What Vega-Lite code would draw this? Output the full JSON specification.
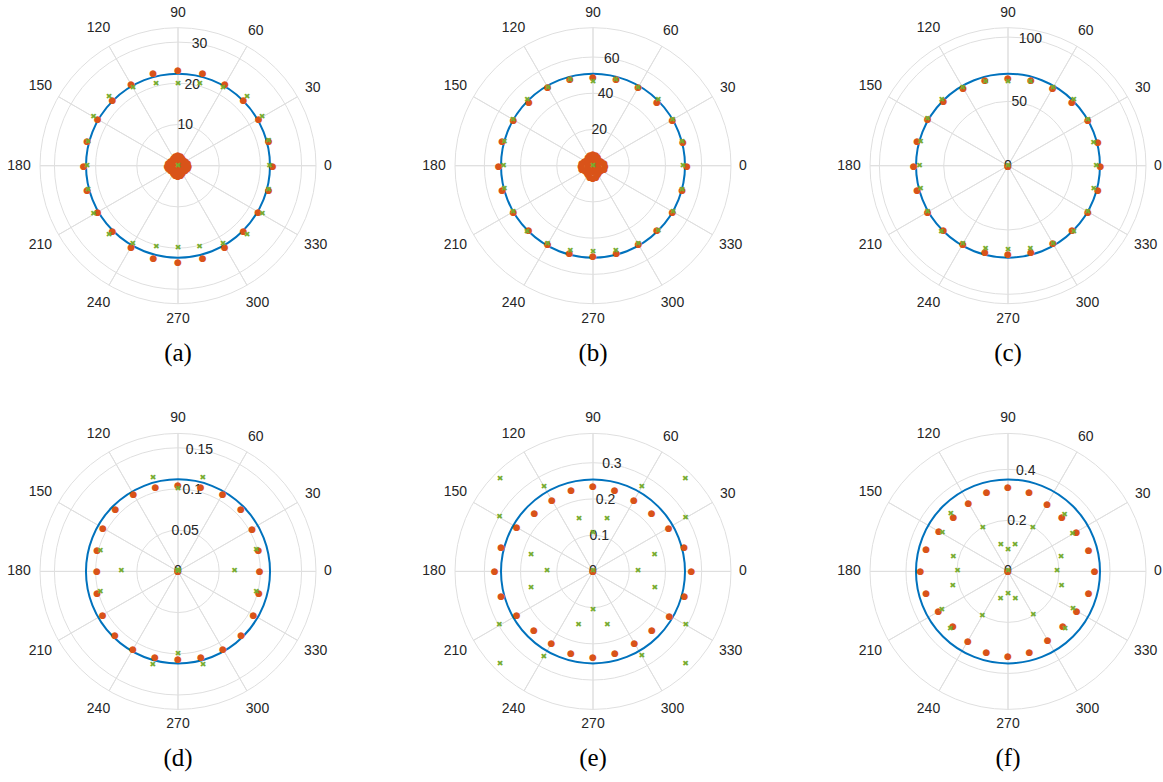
{
"$schema": "https://vega.github.io/schema/vega-lite/v6.json",
"padding": {"left": 7, "top": 0.7, "right": 0, "bottom": 8},
"background": "white",
"config": {"view": {"stroke": null}},
"data": {"values": [
{"p":"(a)","k":"o","a":0,"r":22.99},{"p":"(a)","k":"o","a":15,"r":22.77},{"p":"(a)","k":"o","a":30,"r":22.58},{"p":"(a)","k":"o","a":45,"r":22.45},{"p":"(a)","k":"o","a":60,"r":22.77},{"p":"(a)","k":"o","a":75,"r":23.21},{"p":"(a)","k":"o","a":90,"r":23.35},{"p":"(a)","k":"o","a":105,"r":23.18},{"p":"(a)","k":"o","a":120,"r":22.79},{"p":"(a)","k":"o","a":135,"r":22.48},{"p":"(a)","k":"o","a":150,"r":22.5},{"p":"(a)","k":"o","a":165,"r":22.84},{"p":"(a)","k":"o","a":180,"r":22.89},{"p":"(a)","k":"o","a":195,"r":22.84},{"p":"(a)","k":"o","a":210,"r":22.5},{"p":"(a)","k":"o","a":225,"r":22.48},{"p":"(a)","k":"o","a":240,"r":22.72},{"p":"(a)","k":"o","a":255,"r":23.11},{"p":"(a)","k":"o","a":270,"r":23.3},{"p":"(a)","k":"o","a":285,"r":23.16},{"p":"(a)","k":"o","a":300,"r":22.7},{"p":"(a)","k":"o","a":315,"r":22.48},{"p":"(a)","k":"o","a":330,"r":22.48},{"p":"(a)","k":"o","a":345,"r":22.79},
{"p":"(a)","k":"o","a":0,"r":2.55},{"p":"(a)","k":"o","a":15,"r":2.43},{"p":"(a)","k":"o","a":30,"r":2.06},{"p":"(a)","k":"o","a":45,"r":1.82},{"p":"(a)","k":"o","a":60,"r":2.06},{"p":"(a)","k":"o","a":75,"r":2.43},{"p":"(a)","k":"o","a":90,"r":2.55},{"p":"(a)","k":"o","a":105,"r":2.43},{"p":"(a)","k":"o","a":120,"r":2.06},{"p":"(a)","k":"o","a":135,"r":1.82},{"p":"(a)","k":"o","a":150,"r":2.06},{"p":"(a)","k":"o","a":165,"r":2.43},{"p":"(a)","k":"o","a":180,"r":2.55},{"p":"(a)","k":"o","a":195,"r":2.43},{"p":"(a)","k":"o","a":210,"r":2.06},{"p":"(a)","k":"o","a":225,"r":1.82},{"p":"(a)","k":"o","a":240,"r":2.06},{"p":"(a)","k":"o","a":255,"r":2.43},{"p":"(a)","k":"o","a":270,"r":2.55},{"p":"(a)","k":"o","a":285,"r":2.43},{"p":"(a)","k":"o","a":300,"r":2.06},{"p":"(a)","k":"o","a":315,"r":1.82},{"p":"(a)","k":"o","a":330,"r":2.06},{"p":"(a)","k":"o","a":345,"r":2.43},
{"p":"(a)","k":"o","a":0,"r":1.2},{"p":"(a)","k":"o","a":45,"r":1.0},{"p":"(a)","k":"o","a":90,"r":1.2},{"p":"(a)","k":"o","a":135,"r":1.0},{"p":"(a)","k":"o","a":180,"r":1.2},{"p":"(a)","k":"o","a":225,"r":1.0},{"p":"(a)","k":"o","a":270,"r":1.2},{"p":"(a)","k":"o","a":315,"r":1.0},{"p":"(a)","k":"o","a":0,"r":0},
{"p":"(a)","k":"g","a":0,"r":22.26},{"p":"(a)","k":"g","a":15,"r":22.77},{"p":"(a)","k":"g","a":30,"r":23.6},{"p":"(a)","k":"g","a":45,"r":23.69},{"p":"(a)","k":"g","a":60,"r":21.85},{"p":"(a)","k":"g","a":75,"r":20.51},{"p":"(a)","k":"g","a":90,"r":19.95},{"p":"(a)","k":"g","a":105,"r":20.44},{"p":"(a)","k":"g","a":120,"r":21.85},{"p":"(a)","k":"g","a":135,"r":23.69},{"p":"(a)","k":"g","a":150,"r":23.67},{"p":"(a)","k":"g","a":165,"r":22.6},{"p":"(a)","k":"g","a":180,"r":22.09},{"p":"(a)","k":"g","a":195,"r":22.6},{"p":"(a)","k":"g","a":210,"r":23.64},{"p":"(a)","k":"g","a":225,"r":23.69},{"p":"(a)","k":"g","a":240,"r":21.92},{"p":"(a)","k":"g","a":255,"r":20.34},{"p":"(a)","k":"g","a":270,"r":19.91},{"p":"(a)","k":"g","a":285,"r":20.34},{"p":"(a)","k":"g","a":300,"r":21.92},{"p":"(a)","k":"g","a":315,"r":23.69},{"p":"(a)","k":"g","a":330,"r":23.64},{"p":"(a)","k":"g","a":345,"r":22.77},{"p":"(a)","k":"g","a":0,"r":0},
{"p":"(a)","k":"t","r":0},{"p":"(a)","k":"t","r":10},{"p":"(a)","k":"t","r":20},{"p":"(a)","k":"t","r":30},{"p":"(a)","k":"e","r":33.5},{"p":"(a)","k":"b","r":22.33},
{"p":"(a)","k":"a","a":0},{"p":"(a)","k":"a","a":30},{"p":"(a)","k":"a","a":60},{"p":"(a)","k":"a","a":90},{"p":"(a)","k":"a","a":120},{"p":"(a)","k":"a","a":150},{"p":"(a)","k":"a","a":180},{"p":"(a)","k":"a","a":210},{"p":"(a)","k":"a","a":240},{"p":"(a)","k":"a","a":270},{"p":"(a)","k":"a","a":300},{"p":"(a)","k":"a","a":330},

{"p":"(b)","k":"o","a":0,"r":51.9},{"p":"(b)","k":"o","a":15,"r":51.4},{"p":"(b)","k":"o","a":30,"r":50.7},{"p":"(b)","k":"o","a":45,"r":50.0},{"p":"(b)","k":"o","a":60,"r":49.9},{"p":"(b)","k":"o","a":75,"r":49.5},{"p":"(b)","k":"o","a":90,"r":49.0},{"p":"(b)","k":"o","a":105,"r":49.4},{"p":"(b)","k":"o","a":120,"r":50.0},{"p":"(b)","k":"o","a":135,"r":50.1},{"p":"(b)","k":"o","a":150,"r":50.8},{"p":"(b)","k":"o","a":165,"r":51.9},{"p":"(b)","k":"o","a":180,"r":52.1},{"p":"(b)","k":"o","a":195,"r":51.9},{"p":"(b)","k":"o","a":210,"r":50.8},{"p":"(b)","k":"o","a":225,"r":50.3},{"p":"(b)","k":"o","a":240,"r":50.1},{"p":"(b)","k":"o","a":255,"r":50.1},{"p":"(b)","k":"o","a":270,"r":49.9},{"p":"(b)","k":"o","a":285,"r":50.1},{"p":"(b)","k":"o","a":300,"r":50.1},{"p":"(b)","k":"o","a":315,"r":50.0},{"p":"(b)","k":"o","a":330,"r":50.6},{"p":"(b)","k":"o","a":345,"r":51.0},
{"p":"(b)","k":"o","a":0,"r":6.6},{"p":"(b)","k":"o","a":15,"r":6.35},{"p":"(b)","k":"o","a":30,"r":5.25},{"p":"(b)","k":"o","a":45,"r":4.7},{"p":"(b)","k":"o","a":60,"r":5.25},{"p":"(b)","k":"o","a":75,"r":6.35},{"p":"(b)","k":"o","a":90,"r":6.6},{"p":"(b)","k":"o","a":105,"r":6.35},{"p":"(b)","k":"o","a":120,"r":5.25},{"p":"(b)","k":"o","a":135,"r":4.7},{"p":"(b)","k":"o","a":150,"r":5.25},{"p":"(b)","k":"o","a":165,"r":6.35},{"p":"(b)","k":"o","a":180,"r":6.6},{"p":"(b)","k":"o","a":195,"r":6.35},{"p":"(b)","k":"o","a":210,"r":5.25},{"p":"(b)","k":"o","a":225,"r":4.7},{"p":"(b)","k":"o","a":240,"r":5.25},{"p":"(b)","k":"o","a":255,"r":6.35},{"p":"(b)","k":"o","a":270,"r":6.6},{"p":"(b)","k":"o","a":285,"r":6.35},{"p":"(b)","k":"o","a":300,"r":5.25},{"p":"(b)","k":"o","a":315,"r":4.7},{"p":"(b)","k":"o","a":330,"r":5.25},{"p":"(b)","k":"o","a":345,"r":6.35},
{"p":"(b)","k":"o","a":0,"r":2.9},{"p":"(b)","k":"o","a":45,"r":2.4},{"p":"(b)","k":"o","a":90,"r":2.9},{"p":"(b)","k":"o","a":135,"r":2.4},{"p":"(b)","k":"o","a":180,"r":2.9},{"p":"(b)","k":"o","a":225,"r":2.4},{"p":"(b)","k":"o","a":270,"r":2.9},{"p":"(b)","k":"o","a":315,"r":2.4},{"p":"(b)","k":"o","a":0,"r":0},
{"p":"(b)","k":"g","a":0,"r":49.7},{"p":"(b)","k":"g","a":15,"r":50.9},{"p":"(b)","k":"g","a":30,"r":50.7},{"p":"(b)","k":"g","a":45,"r":51.0},{"p":"(b)","k":"g","a":60,"r":49.7},{"p":"(b)","k":"g","a":75,"r":48.9},{"p":"(b)","k":"g","a":90,"r":46.4},{"p":"(b)","k":"g","a":105,"r":48.9},{"p":"(b)","k":"g","a":120,"r":49.7},{"p":"(b)","k":"g","a":135,"r":51.2},{"p":"(b)","k":"g","a":150,"r":51.0},{"p":"(b)","k":"g","a":165,"r":50.7},{"p":"(b)","k":"g","a":180,"r":49.3},{"p":"(b)","k":"g","a":195,"r":50.7},{"p":"(b)","k":"g","a":210,"r":51.0},{"p":"(b)","k":"g","a":225,"r":51.4},{"p":"(b)","k":"g","a":240,"r":50.1},{"p":"(b)","k":"g","a":255,"r":48.6},{"p":"(b)","k":"g","a":270,"r":47.9},{"p":"(b)","k":"g","a":285,"r":48.6},{"p":"(b)","k":"g","a":300,"r":50.1},{"p":"(b)","k":"g","a":315,"r":51.0},{"p":"(b)","k":"g","a":330,"r":51.0},{"p":"(b)","k":"g","a":345,"r":51.0},{"p":"(b)","k":"g","a":0,"r":0},
{"p":"(b)","k":"t","r":0},{"p":"(b)","k":"t","r":20},{"p":"(b)","k":"t","r":40},{"p":"(b)","k":"t","r":60},{"p":"(b)","k":"e","r":76.2},{"p":"(b)","k":"b","r":50.8},
{"p":"(b)","k":"a","a":0},{"p":"(b)","k":"a","a":30},{"p":"(b)","k":"a","a":60},{"p":"(b)","k":"a","a":90},{"p":"(b)","k":"a","a":120},{"p":"(b)","k":"a","a":150},{"p":"(b)","k":"a","a":180},{"p":"(b)","k":"a","a":210},{"p":"(b)","k":"a","a":240},{"p":"(b)","k":"a","a":270},{"p":"(b)","k":"a","a":300},{"p":"(b)","k":"a","a":330},

{"p":"(c)","k":"o","a":0,"r":71.8},{"p":"(c)","k":"o","a":15,"r":72.4},{"p":"(c)","k":"o","a":30,"r":71.7},{"p":"(c)","k":"o","a":45,"r":70.4},{"p":"(c)","k":"o","a":60,"r":69.4},{"p":"(c)","k":"o","a":75,"r":68.8},{"p":"(c)","k":"o","a":90,"r":68.4},{"p":"(c)","k":"o","a":105,"r":69.0},{"p":"(c)","k":"o","a":120,"r":69.7},{"p":"(c)","k":"o","a":135,"r":70.9},{"p":"(c)","k":"o","a":150,"r":72.1},{"p":"(c)","k":"o","a":165,"r":73.2},{"p":"(c)","k":"o","a":180,"r":73.3},{"p":"(c)","k":"o","a":195,"r":73.2},{"p":"(c)","k":"o","a":210,"r":72.1},{"p":"(c)","k":"o","a":225,"r":70.9},{"p":"(c)","k":"o","a":240,"r":69.9},{"p":"(c)","k":"o","a":255,"r":69.3},{"p":"(c)","k":"o","a":270,"r":68.7},{"p":"(c)","k":"o","a":285,"r":69.2},{"p":"(c)","k":"o","a":300,"r":69.7},{"p":"(c)","k":"o","a":315,"r":70.5},{"p":"(c)","k":"o","a":330,"r":71.7},{"p":"(c)","k":"o","a":345,"r":72.4},{"p":"(c)","k":"o","a":0,"r":0},
{"p":"(c)","k":"g","a":0,"r":68.7},{"p":"(c)","k":"g","a":15,"r":69.0},{"p":"(c)","k":"g","a":30,"r":71.7},{"p":"(c)","k":"g","a":45,"r":72.5},{"p":"(c)","k":"g","a":60,"r":70.0},{"p":"(c)","k":"g","a":75,"r":67.5},{"p":"(c)","k":"g","a":90,"r":65.3},{"p":"(c)","k":"g","a":105,"r":67.5},{"p":"(c)","k":"g","a":120,"r":70.1},{"p":"(c)","k":"g","a":135,"r":72.7},{"p":"(c)","k":"g","a":150,"r":72.1},{"p":"(c)","k":"g","a":165,"r":70.4},{"p":"(c)","k":"g","a":180,"r":68.7},{"p":"(c)","k":"g","a":195,"r":70.4},{"p":"(c)","k":"g","a":210,"r":72.1},{"p":"(c)","k":"g","a":225,"r":73.2},{"p":"(c)","k":"g","a":240,"r":70.2},{"p":"(c)","k":"g","a":255,"r":67.4},{"p":"(c)","k":"g","a":270,"r":65.5},{"p":"(c)","k":"g","a":285,"r":67.4},{"p":"(c)","k":"g","a":300,"r":70.2},{"p":"(c)","k":"g","a":315,"r":72.5},{"p":"(c)","k":"g","a":330,"r":71.7},{"p":"(c)","k":"g","a":345,"r":69.1},{"p":"(c)","k":"g","a":0,"r":0},
{"p":"(c)","k":"t","r":0},{"p":"(c)","k":"t","r":50},{"p":"(c)","k":"t","r":100},{"p":"(c)","k":"e","r":107.3},{"p":"(c)","k":"b","r":71.5},
{"p":"(c)","k":"a","a":0},{"p":"(c)","k":"a","a":30},{"p":"(c)","k":"a","a":60},{"p":"(c)","k":"a","a":90},{"p":"(c)","k":"a","a":120},{"p":"(c)","k":"a","a":150},{"p":"(c)","k":"a","a":180},{"p":"(c)","k":"a","a":210},{"p":"(c)","k":"a","a":240},{"p":"(c)","k":"a","a":270},{"p":"(c)","k":"a","a":300},{"p":"(c)","k":"a","a":330},

{"p":"(d)","k":"o","a":0,"r":0.0992},{"p":"(d)","k":"o","a":15,"r":0.1011},{"p":"(d)","k":"o","a":30,"r":0.1039},{"p":"(d)","k":"o","a":45,"r":0.1079},{"p":"(d)","k":"o","a":60,"r":0.1086},{"p":"(d)","k":"o","a":75,"r":0.1065},{"p":"(d)","k":"o","a":90,"r":0.1052},{"p":"(d)","k":"o","a":105,"r":0.1063},{"p":"(d)","k":"o","a":120,"r":0.1082},{"p":"(d)","k":"o","a":135,"r":0.1073},{"p":"(d)","k":"o","a":150,"r":0.1052},{"p":"(d)","k":"o","a":165,"r":0.1017},{"p":"(d)","k":"o","a":180,"r":0.0983},{"p":"(d)","k":"o","a":195,"r":0.1017},{"p":"(d)","k":"o","a":210,"r":0.1056},{"p":"(d)","k":"o","a":225,"r":0.1084},{"p":"(d)","k":"o","a":240,"r":0.1092},{"p":"(d)","k":"o","a":255,"r":0.1079},{"p":"(d)","k":"o","a":270,"r":0.1065},{"p":"(d)","k":"o","a":285,"r":0.1079},{"p":"(d)","k":"o","a":300,"r":0.1092},{"p":"(d)","k":"o","a":315,"r":0.1084},{"p":"(d)","k":"o","a":330,"r":0.1056},{"p":"(d)","k":"o","a":345,"r":0.1017},{"p":"(d)","k":"o","a":0,"r":0},
{"p":"(d)","k":"g","a":0,"r":0.0688},{"p":"(d)","k":"g","a":15,"r":0.0983},{"p":"(d)","k":"g","a":30,"r":0},{"p":"(d)","k":"g","a":45,"r":0},{"p":"(d)","k":"g","a":60,"r":0},{"p":"(d)","k":"g","a":75,"r":0.1169},{"p":"(d)","k":"g","a":90,"r":0.0999},{"p":"(d)","k":"g","a":105,"r":0.1168},{"p":"(d)","k":"g","a":120,"r":0},{"p":"(d)","k":"g","a":135,"r":0},{"p":"(d)","k":"g","a":150,"r":0},{"p":"(d)","k":"g","a":165,"r":0.0976},{"p":"(d)","k":"g","a":180,"r":0.0688},{"p":"(d)","k":"g","a":195,"r":0.0976},{"p":"(d)","k":"g","a":210,"r":0},{"p":"(d)","k":"g","a":225,"r":0},{"p":"(d)","k":"g","a":240,"r":0},{"p":"(d)","k":"g","a":255,"r":0.1175},{"p":"(d)","k":"g","a":270,"r":0.1004},{"p":"(d)","k":"g","a":285,"r":0.1175},{"p":"(d)","k":"g","a":300,"r":0},{"p":"(d)","k":"g","a":315,"r":0},{"p":"(d)","k":"g","a":330,"r":0},{"p":"(d)","k":"g","a":345,"r":0.0983},
{"p":"(d)","k":"t","r":0},{"p":"(d)","k":"t","r":0.05},{"p":"(d)","k":"t","r":0.1},{"p":"(d)","k":"t","r":0.15},{"p":"(d)","k":"e","r":0.1675},{"p":"(d)","k":"b","r":0.1117},
{"p":"(d)","k":"a","a":0},{"p":"(d)","k":"a","a":30},{"p":"(d)","k":"a","a":60},{"p":"(d)","k":"a","a":90},{"p":"(d)","k":"a","a":120},{"p":"(d)","k":"a","a":150},{"p":"(d)","k":"a","a":180},{"p":"(d)","k":"a","a":210},{"p":"(d)","k":"a","a":240},{"p":"(d)","k":"a","a":270},{"p":"(d)","k":"a","a":300},{"p":"(d)","k":"a","a":330},

{"p":"(e)","k":"o","a":0,"r":0.2714},{"p":"(e)","k":"o","a":15,"r":0.2606},{"p":"(e)","k":"o","a":30,"r":0.2416},{"p":"(e)","k":"o","a":45,"r":0.2292},{"p":"(e)","k":"o","a":60,"r":0.2261},{"p":"(e)","k":"o","a":75,"r":0.2325},{"p":"(e)","k":"o","a":90,"r":0.2347},{"p":"(e)","k":"o","a":105,"r":0.2327},{"p":"(e)","k":"o","a":120,"r":0.2264},{"p":"(e)","k":"o","a":135,"r":0.2283},{"p":"(e)","k":"o","a":150,"r":0.243},{"p":"(e)","k":"o","a":165,"r":0.2623},{"p":"(e)","k":"o","a":180,"r":0.2714},{"p":"(e)","k":"o","a":195,"r":0.2623},{"p":"(e)","k":"o","a":210,"r":0.243},{"p":"(e)","k":"o","a":225,"r":0.2303},{"p":"(e)","k":"o","a":240,"r":0.2289},{"p":"(e)","k":"o","a":255,"r":0.2344},{"p":"(e)","k":"o","a":270,"r":0.2374},{"p":"(e)","k":"o","a":285,"r":0.2344},{"p":"(e)","k":"o","a":300,"r":0.2289},{"p":"(e)","k":"o","a":315,"r":0.2303},{"p":"(e)","k":"o","a":330,"r":0.2438},{"p":"(e)","k":"o","a":345,"r":0.2615},{"p":"(e)","k":"o","a":0,"r":0},
{"p":"(e)","k":"g","a":0,"r":0.1242},{"p":"(e)","k":"g","a":15,"r":0.1761},{"p":"(e)","k":"g","a":30,"r":0.2954},{"p":"(e)","k":"g","a":45,"r":0.3606},{"p":"(e)","k":"g","a":60,"r":0.2692},{"p":"(e)","k":"g","a":75,"r":0.1496},{"p":"(e)","k":"g","a":90,"r":0.1057},{"p":"(e)","k":"g","a":105,"r":0.1496},{"p":"(e)","k":"g","a":120,"r":0.2706},{"p":"(e)","k":"g","a":135,"r":0.3625},{"p":"(e)","k":"g","a":150,"r":0.2976},{"p":"(e)","k":"g","a":165,"r":0.177},{"p":"(e)","k":"g","a":180,"r":0.127},{"p":"(e)","k":"g","a":195,"r":0.1772},{"p":"(e)","k":"g","a":210,"r":0.2982},{"p":"(e)","k":"g","a":225,"r":0.3631},{"p":"(e)","k":"g","a":240,"r":0.2714},{"p":"(e)","k":"g","a":255,"r":0.1524},{"p":"(e)","k":"g","a":270,"r":0.1057},{"p":"(e)","k":"g","a":285,"r":0.1524},{"p":"(e)","k":"g","a":300,"r":0.27},{"p":"(e)","k":"g","a":315,"r":0.3611},{"p":"(e)","k":"g","a":330,"r":0.2957},{"p":"(e)","k":"g","a":345,"r":0.1767},{"p":"(e)","k":"g","a":0,"r":0},
{"p":"(e)","k":"t","r":0},{"p":"(e)","k":"t","r":0.1},{"p":"(e)","k":"t","r":0.2},{"p":"(e)","k":"t","r":0.3},{"p":"(e)","k":"e","r":0.381},{"p":"(e)","k":"b","r":0.254},
{"p":"(e)","k":"a","a":0},{"p":"(e)","k":"a","a":30},{"p":"(e)","k":"a","a":60},{"p":"(e)","k":"a","a":90},{"p":"(e)","k":"a","a":120},{"p":"(e)","k":"a","a":150},{"p":"(e)","k":"a","a":180},{"p":"(e)","k":"a","a":210},{"p":"(e)","k":"a","a":240},{"p":"(e)","k":"a","a":270},{"p":"(e)","k":"a","a":300},{"p":"(e)","k":"a","a":330},

{"p":"(f)","k":"o","a":0,"r":0.3399},{"p":"(f)","k":"o","a":15,"r":0.327},{"p":"(f)","k":"o","a":30,"r":0.3097},{"p":"(f)","k":"o","a":45,"r":0.2995},{"p":"(f)","k":"o","a":60,"r":0.3073},{"p":"(f)","k":"o","a":75,"r":0.3203},{"p":"(f)","k":"o","a":90,"r":0.3293},{"p":"(f)","k":"o","a":105,"r":0.3211},{"p":"(f)","k":"o","a":120,"r":0.3093},{"p":"(f)","k":"o","a":135,"r":0.3019},{"p":"(f)","k":"o","a":150,"r":0.3132},{"p":"(f)","k":"o","a":165,"r":0.332},{"p":"(f)","k":"o","a":180,"r":0.3438},{"p":"(f)","k":"o","a":195,"r":0.332},{"p":"(f)","k":"o","a":210,"r":0.3144},{"p":"(f)","k":"o","a":225,"r":0.305},{"p":"(f)","k":"o","a":240,"r":0.3136},{"p":"(f)","k":"o","a":255,"r":0.3262},{"p":"(f)","k":"o","a":270,"r":0.3332},{"p":"(f)","k":"o","a":285,"r":0.3262},{"p":"(f)","k":"o","a":300,"r":0.3117},{"p":"(f)","k":"o","a":315,"r":0.305},{"p":"(f)","k":"o","a":330,"r":0.3113},{"p":"(f)","k":"o","a":345,"r":0.327},{"p":"(f)","k":"o","a":0,"r":0},
{"p":"(f)","k":"g","a":0,"r":0.1921},{"p":"(f)","k":"g","a":15,"r":0.2156},{"p":"(f)","k":"g","a":30,"r":0.2928},{"p":"(f)","k":"g","a":45,"r":0.314},{"p":"(f)","k":"g","a":60,"r":0.1956},{"p":"(f)","k":"g","a":75,"r":0.1078},{"p":"(f)","k":"g","a":90,"r":0.0835},{"p":"(f)","k":"g","a":105,"r":0.1078},{"p":"(f)","k":"g","a":120,"r":0.1968},{"p":"(f)","k":"g","a":135,"r":0.3168},{"p":"(f)","k":"g","a":150,"r":0.2972},{"p":"(f)","k":"g","a":165,"r":0.2219},{"p":"(f)","k":"g","a":180,"r":0.1972},{"p":"(f)","k":"g","a":195,"r":0.2235},{"p":"(f)","k":"g","a":210,"r":0.2991},{"p":"(f)","k":"g","a":225,"r":0.3199},{"p":"(f)","k":"g","a":240,"r":0.2015},{"p":"(f)","k":"g","a":255,"r":0.1125},{"p":"(f)","k":"g","a":270,"r":0.089},{"p":"(f)","k":"g","a":285,"r":0.1125},{"p":"(f)","k":"g","a":300,"r":0.1988},{"p":"(f)","k":"g","a":315,"r":0.3168},{"p":"(f)","k":"g","a":330,"r":0.2948},{"p":"(f)","k":"g","a":345,"r":0.2172},{"p":"(f)","k":"g","a":0,"r":0},
{"p":"(f)","k":"t","r":0},{"p":"(f)","k":"t","r":0.2},{"p":"(f)","k":"t","r":0.4},{"p":"(f)","k":"e","r":0.541},{"p":"(f)","k":"b","r":0.3607},
{"p":"(f)","k":"a","a":0},{"p":"(f)","k":"a","a":30},{"p":"(f)","k":"a","a":60},{"p":"(f)","k":"a","a":90},{"p":"(f)","k":"a","a":120},{"p":"(f)","k":"a","a":150},{"p":"(f)","k":"a","a":180},{"p":"(f)","k":"a","a":210},{"p":"(f)","k":"a","a":240},{"p":"(f)","k":"a","a":270},{"p":"(f)","k":"a","a":300},{"p":"(f)","k":"a","a":330}
]},
"facet": {"field": "p", "type": "nominal", "header": {"title": null, "labelOrient": "bottom", "labelFont": "Liberation Serif", "labelFontSize": 25, "labelColor": "#000000", "labelPadding": 10, "labelBaseline": "top"}},
"columns": 3,
"bounds": "flush",
"spacing": {"row": 75.7, "column": 103},
"resolve": {"scale": {"radius": "independent"}},
"spec": {
"width": 312,
"height": 330,
"layer": [
{"transform": [{"filter": "(datum.k == 't' || datum.k == 'e') && datum.r > 0"}],
 "mark": {"type": "arc", "filled": false, "stroke": "#dfdfdf", "strokeWidth": 1, "theta": 0, "theta2": 6.2832},
 "encoding": {"radius": {"field": "r", "type": "quantitative", "stack": null, "scale": {"type": "linear", "zero": true, "nice": false, "range": [0, 138]}}}},
{"transform": [{"filter": "datum.k == 'a'"}],
 "mark": {"type": "arc", "filled": false, "stroke": "#dfdfdf", "strokeWidth": 1, "radius": 138},
 "encoding": {"theta": {"field": "a", "type": "quantitative", "stack": null, "scale": {"domain": [0, 360], "range": [1.5708, -4.7124]}}, "theta2": {"field": "a"}}},
{"transform": [{"filter": "datum.k == 't'"}],
 "mark": {"type": "text", "theta": 0.17453, "font": "Liberation Sans", "fontSize": 14, "color": "#262626", "align": "center", "baseline": "middle"},
 "encoding": {"radius": {"field": "r", "type": "quantitative", "stack": null, "scale": {"type": "linear", "zero": true, "nice": false, "range": [0, 138]}}, "text": {"field": "r", "type": "nominal"}}},
{"transform": [{"filter": "datum.k == 'a' && (datum.a == 90 || datum.a == 270)"}],
 "mark": {"type": "text", "radius": 153, "font": "Liberation Sans", "fontSize": 14, "color": "#262626", "align": "center", "baseline": "middle"},
 "encoding": {"theta": {"field": "a", "type": "quantitative", "stack": null, "scale": {"domain": [0, 360], "range": [1.5708, -4.7124]}}, "text": {"field": "a", "type": "nominal"}}},
{"transform": [{"filter": "datum.k == 'a' && datum.a == 0"}],
 "mark": {"type": "text", "radius": 150, "font": "Liberation Sans", "fontSize": 14, "color": "#262626", "align": "center", "baseline": "middle"},
 "encoding": {"theta": {"field": "a", "type": "quantitative", "stack": null, "scale": {"domain": [0, 360], "range": [1.5708, -4.7124]}}, "text": {"field": "a", "type": "nominal"}}},
{"transform": [{"filter": "datum.k == 'a' && (datum.a == 30 || datum.a == 60)"}],
 "mark": {"type": "text", "radius": 155.5, "font": "Liberation Sans", "fontSize": 14, "color": "#262626", "align": "center", "baseline": "middle"},
 "encoding": {"theta": {"field": "a", "type": "quantitative", "stack": null, "scale": {"domain": [0, 360], "range": [1.5708, -4.7124]}}, "text": {"field": "a", "type": "nominal"}}},
{"transform": [{"filter": "datum.k == 'a' && datum.a >= 100 && datum.a != 270"}],
 "mark": {"type": "text", "radius": 159, "font": "Liberation Sans", "fontSize": 14, "color": "#262626", "align": "center", "baseline": "middle"},
 "encoding": {"theta": {"field": "a", "type": "quantitative", "stack": null, "scale": {"domain": [0, 360], "range": [1.5708, -4.7124]}}, "text": {"field": "a", "type": "nominal"}}},
{"transform": [{"filter": "datum.k == 'b'"}],
 "mark": {"type": "arc", "filled": false, "stroke": "#0072BD", "strokeWidth": 2, "theta": 0, "theta2": 6.2832},
 "encoding": {"radius": {"field": "r", "type": "quantitative", "stack": null, "scale": {"type": "linear", "zero": true, "nice": false, "range": [0, 138]}}}},
{"transform": [{"filter": "datum.k == 'o'"}],
 "mark": {"type": "text", "text": "●", "font": "DejaVu Sans", "fontSize": 9, "color": "#D95319", "align": "center", "baseline": "middle"},
 "encoding": {"theta": {"field": "a", "type": "quantitative", "stack": null, "scale": {"domain": [0, 360], "range": [1.5708, -4.7124]}}, "radius": {"field": "r", "type": "quantitative", "stack": null, "scale": {"type": "linear", "zero": true, "nice": false, "range": [0, 138]}}}},
{"transform": [{"filter": "datum.k == 'g'"}],
 "mark": {"type": "text", "text": "✖", "font": "DejaVu Sans", "fontSize": 8, "color": "#77AC30", "align": "center", "baseline": "middle"},
 "encoding": {"theta": {"field": "a", "type": "quantitative", "stack": null, "scale": {"domain": [0, 360], "range": [1.5708, -4.7124]}}, "radius": {"field": "r", "type": "quantitative", "stack": null, "scale": {"type": "linear", "zero": true, "nice": false, "range": [0, 138]}}}}
]
}
}
